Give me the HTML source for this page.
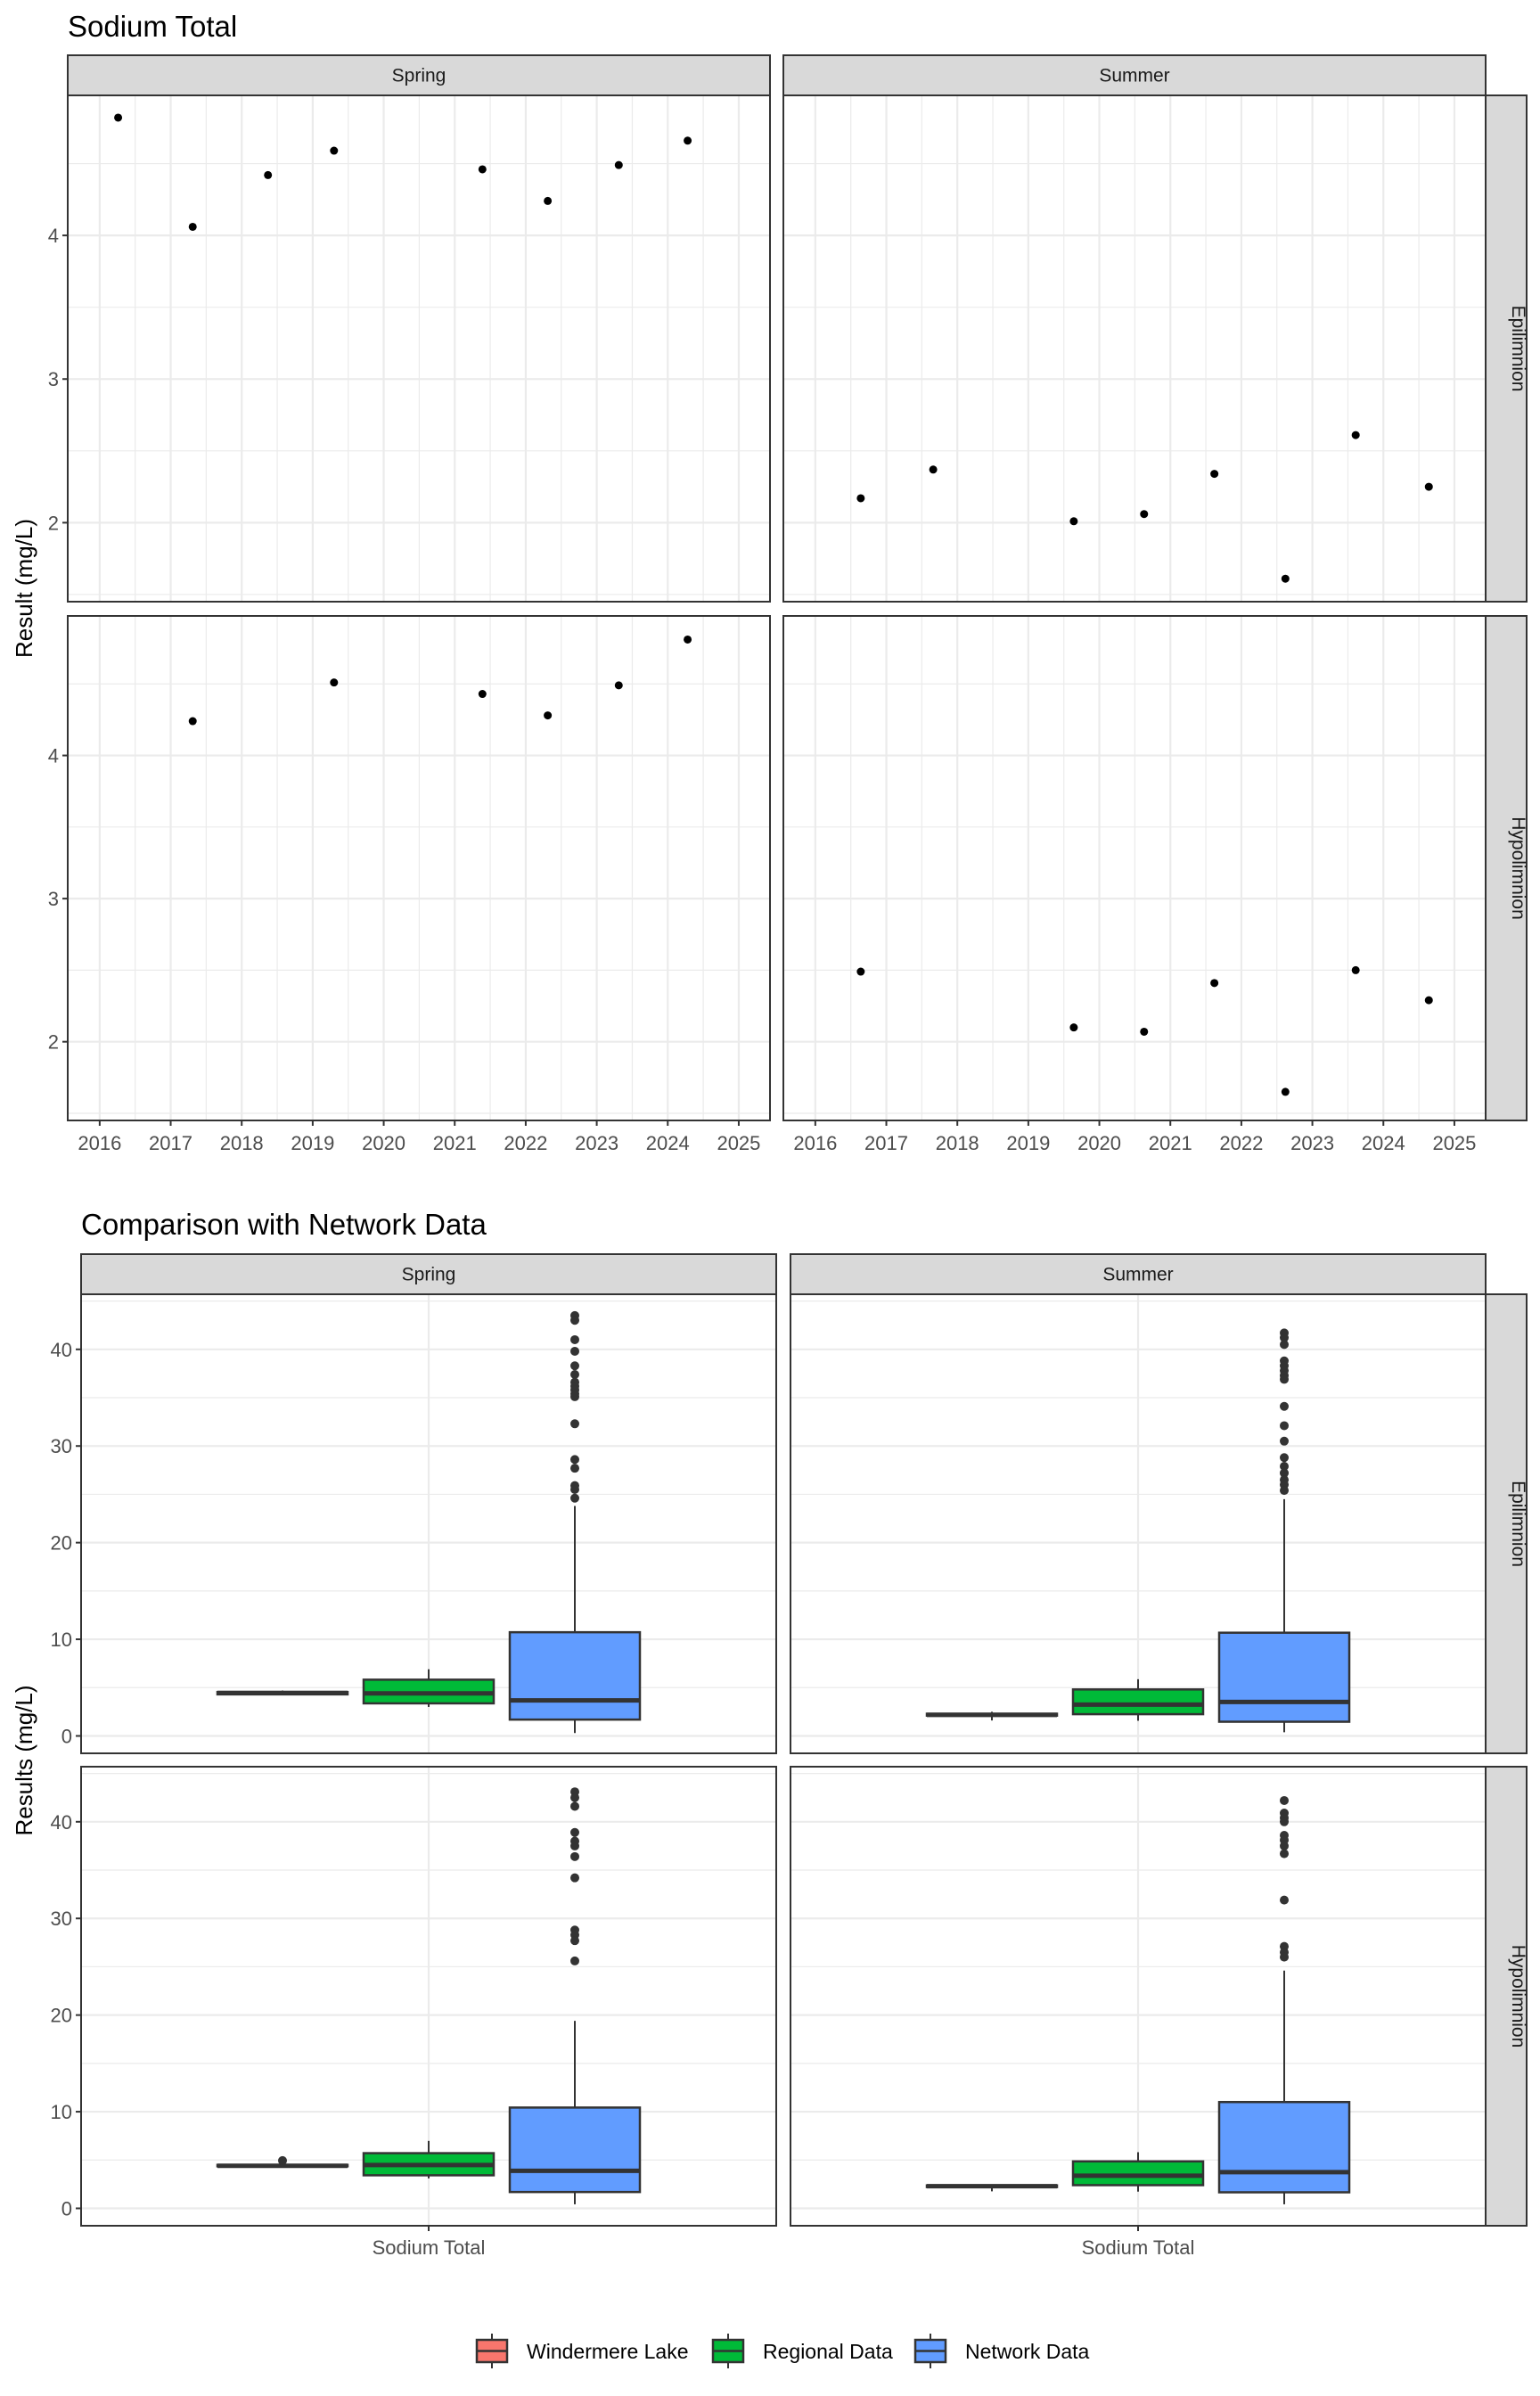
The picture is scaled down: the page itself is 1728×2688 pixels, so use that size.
<!DOCTYPE html>
<html><head><meta charset="utf-8"><style>
html,body{margin:0;padding:0;background:#fff;}
svg{display:block;font-family:"Liberation Sans",Arial,sans-serif;}
</style></head><body>
<svg id="chart" width="1728" height="2688" xmlns="http://www.w3.org/2000/svg"></svg>
<script>
// ---------- Data: scatter (Sodium Total) ----------
const springEpiYears = [2016.26,2017.31,2018.37,2019.30,2021.39,2022.31,2023.31,2024.28];
const springEpiValues = [4.82,4.06,4.42,4.59,4.46,4.24,4.49,4.66];
const summerEpiYears = [2016.64,2017.66,2019.64,2020.63,2021.62,2022.62,2023.61,2024.64];
const summerEpiValues = [2.17,2.37,2.01,2.06,2.34,1.61,2.61,2.25];
const springHypoYears = [2017.31,2019.30,2021.39,2022.31,2023.31,2024.28];
const springHypoValues = [4.24,4.51,4.43,4.28,4.49,4.81];
const summerHypoYears = [2016.64,2019.64,2020.63,2021.62,2022.62,2023.61,2024.64];
const summerHypoValues = [2.49,2.10,2.07,2.41,1.65,2.50,2.29];
const yearTicks = [2016,2017,2018,2019,2020,2021,2022,2023,2024,2025];
const resultTicks = [2,3,4];

// ---------- Data: boxplots [whiskerLow, q1, median, q3, whiskerHigh] ----------
const groups = ["Windermere Lake","Regional Data","Network Data"];
const groupColors = ["#F8766D","#00BA38","#619CFF"];
const springEpiBoxes = [[4.2,4.3,4.45,4.55,4.7],[3.0,3.37,4.4,5.82,6.9],[0.3,1.69,3.68,10.73,23.8]];
const springEpiOutliers = [43.5,43.0,41.0,39.8,38.3,37.4,36.6,36.2,35.8,35.4,35.1,32.3,28.6,27.7,25.9,25.5,24.6];
const summerEpiBoxes = [[1.6,2.1,2.18,2.3,2.5],[1.57,2.25,3.24,4.81,5.87],[0.38,1.47,3.52,10.68,24.5]];
const summerEpiOutliers = [41.7,41.2,40.5,38.8,38.3,37.8,37.3,36.9,34.1,32.1,30.5,28.8,27.9,27.2,26.5,26.0,25.4];
const springHypoBoxes = [[4.3,4.35,4.4,4.5,4.6],[3.1,3.42,4.48,5.71,6.98],[0.42,1.69,3.88,10.43,19.4]];
const springHypoWinOutliers = [4.94];
const springHypoOutliers = [43.1,42.5,41.6,38.9,38.0,37.5,36.4,34.2,28.8,28.3,27.7,25.6];
const summerHypoBoxes = [[1.76,2.2,2.29,2.38,2.4],[1.73,2.40,3.38,4.86,5.81],[0.42,1.66,3.74,11.0,24.6]];
const summerHypoOutliers = [42.2,40.9,40.4,40.0,38.6,38.1,37.5,36.7,31.9,27.1,26.5,26.0];
const boxTicks = [0,10,20,30,40];

const svg = document.getElementById('chart');
const NS = "http://www.w3.org/2000/svg";
function mk(tag, attrs, parent){
  const e=document.createElementNS(NS,tag);
  for(const k in attrs) e.setAttribute(k,attrs[k]);
  (parent||svg).appendChild(e); return e;
}
function txt(s, attrs, parent){ const e=mk('text',attrs,parent); e.textContent=s; return e; }

// titles
let t=txt("Sodium Total",{x:76,y:41,'font-size':33,fill:'#000'});
 
t=txt("Comparison with Network Data",{x:91,y:1385,'font-size':33,fill:'#000'});
 
t=txt("Result (mg/L)",{x:0,y:0,'font-size':26,fill:'#000','text-anchor':'middle',transform:'translate(36,660) rotate(-90)'});
 
t=txt("Results (mg/L)",{x:0,y:0,'font-size':26,fill:'#000','text-anchor':'middle',transform:'translate(36,1975) rotate(-90)'});
 

function strip(x,y,w,h,label,vertical,name){
  const g=mk('g',{});
   
  mk('rect',{x:x,y:y,width:w,height:h,fill:'#d9d9d9',stroke:'#333','stroke-width':2},g);
  if(vertical) txt(label,{x:0,y:0,'font-size':21,fill:'#1a1a1a','text-anchor':'middle',transform:`translate(${x+w/2+7},${y+h/2}) rotate(90)`},g);
  else txt(label,{x:x+w/2,y:y+h/2+7,'font-size':21,fill:'#1a1a1a','text-anchor':'middle'},g);
}

// ---------- scatter panels ----------
const sc = {ymin:1.45, ymax:4.975, yr0:2015.55, yr1:2025.44};
function scatterPanel(px,py,pw,ph,yearsArr,valsArr,showX,showY,name){
  const g=mk('g',{});
   
  const xs=v=>px+(v-sc.yr0)/(sc.yr1-sc.yr0)*pw;
  const ys=v=>py+ph-(v-sc.ymin)/(sc.ymax-sc.ymin)*ph;
  mk('rect',{x:px,y:py,width:pw,height:ph,fill:'#fff'},g);
  for(let v=1.5;v<5;v+=1){ if(v>sc.ymin&&v<sc.ymax) mk('line',{x1:px,x2:px+pw,y1:ys(v),y2:ys(v),stroke:'#ebebeb','stroke-width':1.2},g); }
  for(let i=0;i<yearTicks.length;i++){ const v=yearTicks[i]+0.5; if(v<sc.yr1) mk('line',{x1:xs(v),x2:xs(v),y1:py,y2:py+ph,stroke:'#ebebeb','stroke-width':1.2},g); }
  for(let i=0;i<yearTicks.length-1;i++){ const v=yearTicks[i]-0.5+0; }
  resultTicks.forEach(v=>mk('line',{x1:px,x2:px+pw,y1:ys(v),y2:ys(v),stroke:'#ebebeb','stroke-width':2.2},g));
  yearTicks.forEach(v=>mk('line',{x1:xs(v),x2:xs(v),y1:py,y2:py+ph,stroke:'#ebebeb','stroke-width':2.2},g));
  for(let i=0;i<yearsArr.length;i++){
    const c=mk('circle',{cx:xs(yearsArr[i]),cy:ys(valsArr[i]),r:4.5,fill:'#000'},g);
     
  }
  mk('rect',{x:px,y:py,width:pw,height:ph,fill:'none',stroke:'#333','stroke-width':2},g);
  if(showY) resultTicks.forEach(v=>{
    mk('line',{x1:px-6,x2:px,y1:ys(v),y2:ys(v),stroke:'#333','stroke-width':2},g);
    const l=txt(String(v),{x:px-10,y:ys(v)+8,'font-size':22,fill:'#4d4d4d','text-anchor':'end'},g);
     
  });
  if(showX) yearTicks.forEach(v=>{
    mk('line',{x1:xs(v),x2:xs(v),y1:py+ph,y2:py+ph+6,stroke:'#333','stroke-width':2},g);
    const l=txt(String(v),{x:xs(v),y:py+ph+33,'font-size':22,fill:'#4d4d4d','text-anchor':'middle'},g);
     
  });
}
strip(76,62,788,45,"Spring",false,'strip-spring');
strip(879,62,788,45,"Summer",false,'strip-summer');
scatterPanel(76,107,788,568,springEpiYears,springEpiValues,false,true,'panel-spring-epilimnion');
scatterPanel(879,107,788,568,summerEpiYears,summerEpiValues,false,false,'panel-summer-epilimnion');
scatterPanel(76,691,788,566,springHypoYears,springHypoValues,true,true,'panel-spring-hypolimnion');
scatterPanel(879,691,788,566,summerHypoYears,summerHypoValues,true,false,'panel-summer-hypolimnion');
strip(1667,107,46,568,"Epilimnion",true,'strip-epilimnion');
strip(1667,691,46,566,"Hypolimnion",true,'strip-hypolimnion');

// ---------- box panels ----------
const bx = {ymin:-1.8, ymax:45.7};
function boxPanel(px,py,pw,ph,boxes,outliers,winOut,showX,showY,name){
  const g=mk('g',{});
   
  const ys=v=>py+ph-(v-bx.ymin)/(bx.ymax-bx.ymin)*ph;
  const cx=px+pw/2, step=164, bw=146;
  mk('rect',{x:px,y:py,width:pw,height:ph,fill:'#fff'},g);
  for(let v=5;v<46;v+=10) mk('line',{x1:px,x2:px+pw,y1:ys(v),y2:ys(v),stroke:'#ebebeb','stroke-width':1.2},g);
  boxTicks.forEach(v=>mk('line',{x1:px,x2:px+pw,y1:ys(v),y2:ys(v),stroke:'#ebebeb','stroke-width':2.2},g));
  mk('line',{x1:cx,x2:cx,y1:py,y2:py+ph,stroke:'#ebebeb','stroke-width':2.2},g);
  boxes.forEach((b,i)=>{
    const x=cx+(i-1)*step;
    const bg=mk('g',{},g);
     
    mk('line',{x1:x,x2:x,y1:ys(b[4]),y2:ys(b[3]),stroke:'#333','stroke-width':2},bg);
    mk('line',{x1:x,x2:x,y1:ys(b[1]),y2:ys(b[0]),stroke:'#333','stroke-width':2},bg);
    mk('rect',{x:x-bw/2,y:ys(b[3]),width:bw,height:Math.max(ys(b[1])-ys(b[3]),0.5),fill:groupColors[i],stroke:'#333','stroke-width':2.5},bg);
    mk('line',{x1:x-bw/2,x2:x+bw/2,y1:ys(b[2]),y2:ys(b[2]),stroke:'#333','stroke-width':5},bg);
    const outs = i===2 ? outliers : (i===0 ? winOut : []);
    outs.forEach(v=>{
      const c=mk('circle',{cx:x,cy:ys(v),r:5,fill:'#333'},bg);
       
    });
  });
  mk('rect',{x:px,y:py,width:pw,height:ph,fill:'none',stroke:'#333','stroke-width':2},g);
  if(showY) boxTicks.forEach(v=>{
    mk('line',{x1:px-6,x2:px,y1:ys(v),y2:ys(v),stroke:'#333','stroke-width':2},g);
    const l=txt(String(v),{x:px-10,y:ys(v)+8,'font-size':22,fill:'#4d4d4d','text-anchor':'end'},g);
     
  });
  if(showX){
    mk('line',{x1:cx,x2:cx,y1:py+ph,y2:py+ph+6,stroke:'#333','stroke-width':2},g);
    const l=txt("Sodium Total",{x:cx,y:py+ph+32,'font-size':22,fill:'#4d4d4d','text-anchor':'middle'},g);
     
  }
}
strip(91,1407,780,45,"Spring",false,'strip-spring-box');
strip(887,1407,780,45,"Summer",false,'strip-summer-box');
boxPanel(91,1452,780,515,springEpiBoxes,springEpiOutliers,[],false,true,'box-panel-spring-epilimnion');
boxPanel(887,1452,780,515,summerEpiBoxes,summerEpiOutliers,[],false,false,'box-panel-summer-epilimnion');
boxPanel(91,1982,780,515,springHypoBoxes,springHypoOutliers,springHypoWinOutliers,true,true,'box-panel-spring-hypolimnion');
boxPanel(887,1982,780,515,summerHypoBoxes,summerHypoOutliers,[],true,false,'box-panel-summer-hypolimnion');
strip(1667,1452,46,515,"Epilimnion",true,'strip-epilimnion-box');
strip(1667,1982,46,515,"Hypolimnion",true,'strip-hypolimnion-box');

// ---------- legend ----------
const legendX = [535,800,1027];
const lg=mk('g',{});
 
groups.forEach((name,i)=>{
  const e=mk('g',{},lg);
   
  const x=legendX[i];
  mk('line',{x1:x+17,x2:x+17,y1:2618,y2:2657,stroke:'#333','stroke-width':2},e);
  mk('rect',{x:x,y:2625,width:34,height:25,fill:groupColors[i],stroke:'#333','stroke-width':2.5},e);
  mk('line',{x1:x,x2:x+34,y1:2637.5,y2:2637.5,stroke:'#333','stroke-width':2.5},e);
  txt(name,{x:x+56,y:2646,'font-size':23,fill:'#000'},e);
});
</script>
</body></html>
